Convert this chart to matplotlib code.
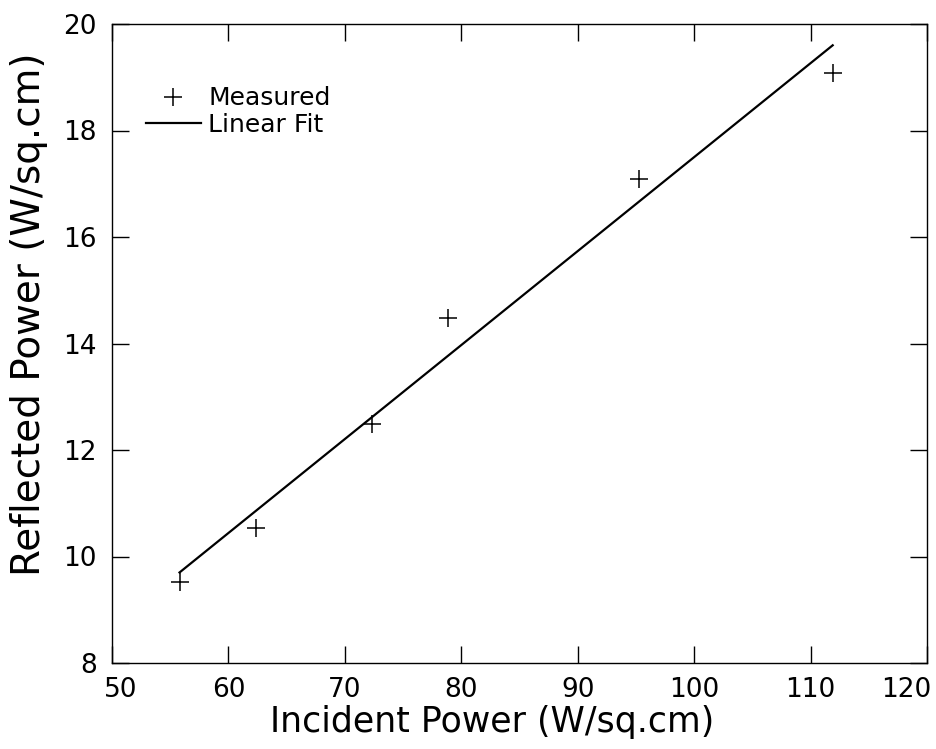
import numpy as np
import matplotlib
matplotlib.use('Agg')
import matplotlib.pyplot as plt
from matplotlib.transforms import ScaledTranslation

# measured points
incident = [55.8, 62.4, 72.3, 78.9, 95.3, 111.9]
reflected = [9.52, 10.54, 12.49, 14.48, 17.09, 19.08]

# straight-line fit, end points
fit_x = [55.8, 111.9]
fit_y = [9.70, 19.60]

xticks = [50, 60, 70, 80, 90, 100, 110, 120]
yticks = [8, 10, 12, 14, 16, 18, 20]

plt.rcParams['font.family'] = ['DejaVu Sans']

fig = plt.figure(figsize=(9.37, 7.49), dpi=100)
ax = fig.add_axes([112 / 937, 1 - 663 / 749, 815 / 937, 639 / 749])

ax.plot(incident, reflected, linestyle='none', marker='+', markersize=13,
        markeredgewidth=1.1, color='black', label='Measured')
ax.plot(fit_x, fit_y, color='black', linewidth=1.6, label='Linear Fit')

ax.set_xlim(50, 120)
ax.set_ylim(8, 20)
ax.set_xticks(xticks)
ax.set_yticks(yticks)
ax.tick_params(direction='in', length=12, width=1.0, top=True, right=True,
               colors='black', labelsize=19)
ax.tick_params(axis='x', pad=10)
ax.tick_params(axis='y', pad=11)
for s in ax.spines.values():
    s.set_linewidth(1.0)

# keep the end labels inside the figure
xl = ax.get_xticklabels()
xl[0].set_transform(xl[0].get_transform() + ScaledTranslation(9 / 100, 0, fig.dpi_scale_trans))
xl[-1].set_transform(xl[-1].get_transform() + ScaledTranslation(-21 / 100, 0, fig.dpi_scale_trans))

fig.text(492 / 937, 1 - 722 / 749, 'Incident Power (W/sq.cm)', fontsize=25,
         ha='center', va='center')
fig.text(29 / 937, 1 - 314 / 749, 'Reflected Power (W/sq.cm)', fontsize=28,
         ha='center', va='center', rotation=90)

ax.legend(loc='upper left', bbox_to_anchor=(0.029, 0.918), frameon=False,
          fontsize=18, handlelength=2.2, handletextpad=0.3, labelspacing=0.1,
          borderaxespad=0)

fig.savefig('out.png', dpi=100)
